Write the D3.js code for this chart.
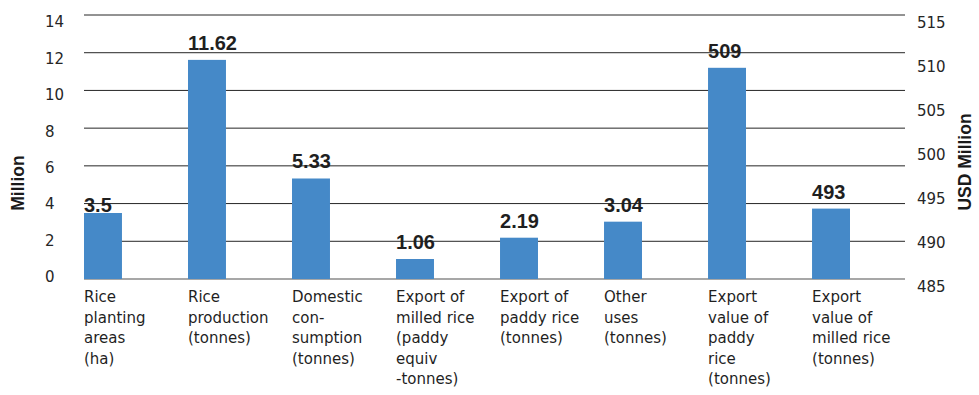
<!DOCTYPE html>
<html>
<head>
<meta charset="utf-8">
<script src="https://cdn.jsdelivr.net/npm/d3@7"></script>
<style>
  html, body { margin: 0; padding: 0; background: #fff; }
  svg { display: block; }
</style>
</head>
<body>
<svg id="chart" width="979" height="395"></svg>
<script>
// Category labels, one entry per line of wrapped text
const categoryLines = [
  ["Rice", "planting", "areas", "(ha)"],
  ["Rice", "production", "(tonnes)"],
  ["Domestic", "con-", "sumption", "(tonnes)"],
  ["Export of", "milled rice", "(paddy", "equiv", "-tonnes)"],
  ["Export of", "paddy rice", "(tonnes)"],
  ["Other", "uses", "(tonnes)"],
  ["Export", "value of", "paddy", "rice", "(tonnes)"],
  ["Export", "value of", "milled rice", "(tonnes)"]
];
const categories = categoryLines.map(l => l.join(" "));

// Quantities in million (left axis)
const quantityCategories = categories.slice(0, 6);
const quantityValues = [3.5, 11.62, 5.33, 1.06, 2.19, 3.04];

// Export values in USD million (right axis)
const valueCategories = categories.slice(6);
const exportValues = [509, 493];

// Axis ticks
const leftTicks = [0, 2, 4, 6, 8, 10, 12, 14];
const rightTicks = [485, 490, 495, 500, 505, 510, 515];

const svg = d3.select("#chart");
const plotLeft = 84, plotRight = 905, plotTop = 15, plotBottom = 279;

const x = d3.scaleBand()
  .domain(categories)
  .range([plotLeft, 850])
  .paddingInner(0.635)
  .paddingOuter(0);

const yLeft = d3.scaleLinear().domain([0, 14]).range([plotBottom, plotTop]);
const yRight = d3.scaleLinear().domain([485, 515]).range([plotBottom, plotTop]);
// tick text is set on its own slightly different spacing
const yLeftText = d3.scaleLinear().domain([0, 14]).range([277, 22]);
const yRightText = d3.scaleLinear().domain([485, 515]).range([287, 23]);

const tickFont = "DejaVu Sans, sans-serif";
const boldFont = "Liberation Sans, Arial, sans-serif";

// Horizontal gridlines
svg.append("g")
  .selectAll("line")
  .data(leftTicks)
  .join("line")
  .attr("x1", plotLeft)
  .attr("x2", plotRight)
  .attr("y1", d => yLeft(d))
  .attr("y2", d => yLeft(d))
  .attr("stroke", d => d === 0 ? "#8a8a8a" : "#262626")
  .attr("stroke-width", d => d === 0 ? 1.6 : 1);

// Left axis labels
const leftAxis = svg.append("g")
  .attr("transform", "translate(45,0)")
  .call(d3.axisLeft(yLeftText).tickValues(leftTicks).tickSize(0).tickPadding(0));
leftAxis.select(".domain").remove();
leftAxis.selectAll("text")
  .attr("text-anchor", "start")
  .attr("x", 0)
  .attr("font-family", tickFont)
  .attr("font-size", 15)
  .attr("fill", "#262626");

// Right axis labels
const rightAxis = svg.append("g")
  .attr("transform", "translate(917,0)")
  .call(d3.axisRight(yRightText).tickValues(rightTicks).tickSize(0).tickPadding(0));
rightAxis.select(".domain").remove();
rightAxis.selectAll("text")
  .attr("text-anchor", "start")
  .attr("x", 0)
  .attr("font-family", tickFont)
  .attr("font-size", 15)
  .attr("fill", "#262626");

// Axis titles
svg.append("text")
  .attr("transform", "translate(24,183) rotate(-90)")
  .attr("text-anchor", "middle")
  .attr("font-family", boldFont)
  .attr("font-weight", "bold")
  .attr("font-size", 17.5)
  .attr("fill", "#1a1a1a")
  .text("Million");

svg.append("text")
  .attr("transform", "translate(971,162) rotate(-90)")
  .attr("text-anchor", "middle")
  .attr("font-family", boldFont)
  .attr("font-weight", "bold")
  .attr("font-size", 17.5)
  .attr("fill", "#1a1a1a")
  .text("USD Million");

// Bars: quantities against the left scale, export values against the right
const barColor = "#4589c8";
const bars = quantityCategories.map((c, i) => ({ c, v: quantityValues[i], y: yLeft }))
  .concat(valueCategories.map((c, i) => ({ c, v: exportValues[i], y: yRight })));

svg.append("g")
  .selectAll("rect")
  .data(bars)
  .join("rect")
  .attr("x", d => x(d.c))
  .attr("width", x.bandwidth())
  .attr("y", d => d.y(d.v))
  .attr("height", d => plotBottom - d.y(d.v))
  .attr("fill", barColor);

// Value labels above the bars
svg.append("g")
  .selectAll("text")
  .data(bars)
  .join("text")
  .attr("x", d => x(d.c))
  .attr("y", (d, i) => d.y(d.v) - (i === 0 ? 1 : 10))
  .attr("font-family", boldFont)
  .attr("font-weight", "bold")
  .attr("font-size", 20)
  .attr("fill", "#1f1f1f")
  .text(d => d.v);

// Wrapped category labels under each bar
const catLabels = svg.append("g")
  .selectAll("text")
  .data(categoryLines)
  .join("text")
  .attr("x", (d, i) => x(categories[i]))
  .attr("y", 302)
  .attr("font-family", tickFont)
  .attr("font-size", 15)
  .attr("fill", "#1f1f1f");

catLabels.selectAll("tspan")
  .data(d => d)
  .join("tspan")
  .attr("x", function () { return this.parentNode.getAttribute("x"); })
  .attr("dy", (d, j) => j === 0 ? 0 : 20.5)
  .text(d => d);
</script>
</body>
</html>
